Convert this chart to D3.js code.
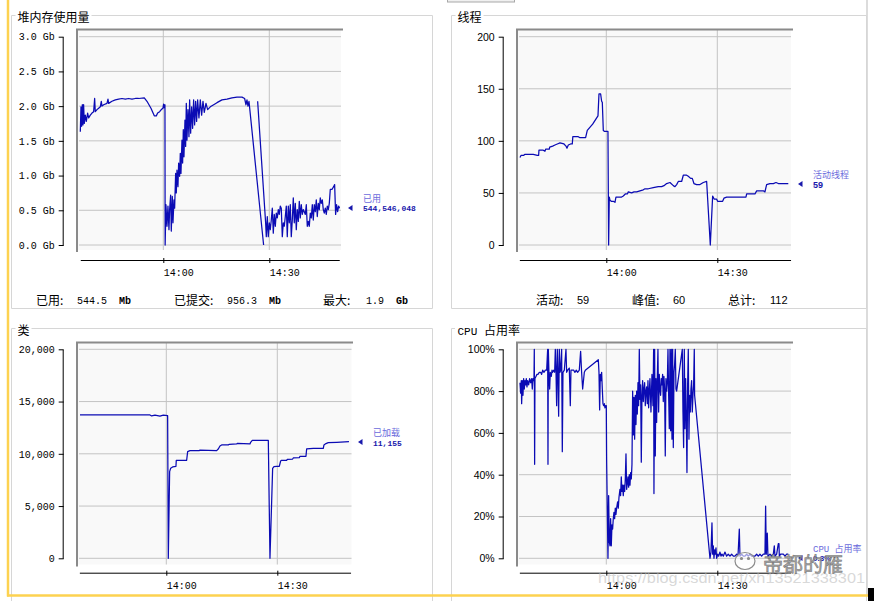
<!DOCTYPE html>
<html><head><meta charset="utf-8">
<script src="https://cdn.jsdelivr.net/npm/d3@7/dist/d3.min.js"></script>
<style>body{margin:0;background:#fff;}svg{display:block}</style>
</head><body>
<svg id="c" width="874" height="601"></svg>
<script>
// ---------- DATA (time = minutes after 13:00) ----------
const timeDomain = [36.5, 109.8];
const xTickMinutes = [60, 90];
const xTickLabels = ["14:00", "14:30"];

// Heap memory used (Gb)
const heapSeries = [
[36.51,1.63],[36.70,1.99],[36.89,1.71],[37.08,2.02],[37.26,1.73],[37.45,2.02],[37.64,1.75],[37.92,1.87],[38.21,1.78],[38.58,1.90],
[38.87,1.83],[39.34,1.87],[39.81,1.90],[40.28,1.92],[40.57,2.11],[40.75,1.92],[41.23,1.95],[41.70,1.97],[42.17,1.99],[42.45,2.07],
[42.64,2.00],[43.11,2.02],[44.06,2.04],[44.34,2.10],[44.53,2.04],[45.47,2.07],[46.42,2.09],[47.36,2.10],[48.30,2.11],[49.25,2.10],
[50.19,2.11],[51.13,2.10],[52.08,2.11],[53.02,2.11],[54.62,2.12],[55.38,2.07],[56.51,1.97],[57.45,1.86],[58.02,1.86],[58.40,1.90],
[58.96,1.92],[59.43,1.95],[59.91,1.97],[60.09,2.03],[60.28,1.98],[60.47,2.02],[60.52,0],
[60.75,0.58],[61.04,0.27],[61.32,0.56],[61.60,0.22],[61.79,0.51],[62.08,0.72],[62.26,0.20],[62.55,0.70],[62.74,0.32],[63.02,0.65],
[63.21,0.53],[63.49,1.03],[63.68,0.75],[63.87,1.08],[64.15,0.84],[64.34,1.18],[64.62,0.99],[64.81,1.32],[65.00,1.03],[65.28,1.51],
[65.47,1.18],[65.66,1.66],[65.85,1.27],[66.13,1.80],[66.32,1.42],[66.51,2.04],[66.70,1.51],[66.98,1.95],[67.26,1.56],[67.45,2.09],
[67.74,1.61],[68.02,1.99],[68.30,1.68],[68.58,2.09],[68.87,1.73],[69.15,2.07],[69.43,1.78],[69.72,2.09],[70.09,1.83],[70.47,2.09],
[70.85,1.87],[71.23,2.07],[71.60,1.91],[72.08,2.04],[72.55,1.95],[73.30,1.99],[74.25,2.02],[75.19,2.05],[76.60,2.09],[78.02,2.10],
[79.43,2.12],[80.85,2.13],[82.26,2.13],[83.02,2.11],[83.40,2.02],[83.68,2.09],[83.96,2.00],[84.25,2.07],[88.39,0],
[88.40,null],
[86.70,2.07],[88.96,0.32],[89.15,0.12],[89.43,0.41],[89.71,0.12],[90.00,0.32],[90.28,0.22],[90.56,0.36],[90.85,0.53],[91.13,0.17],
[91.41,0.44],[91.70,0.27],[91.98,0.46],[92.26,0.39],[92.55,0.51],[92.83,0.44],[93.11,0.56],[93.39,0.53],[93.68,0.12],[93.96,0.32],
[94.24,0.27],[94.53,0.41],[94.81,0.56],[95.09,0.12],[95.38,0.56],[95.66,0.32],[95.94,0.58],[96.22,0.12],[96.51,0.36],[96.79,0.68],
[97.07,0.32],[97.36,0.60],[97.64,0.22],[97.92,0.51],[98.21,0.34],[98.49,0.63],[98.77,0.39],[99.05,0.58],[99.34,0.44],[99.62,0.51],
[99.90,0.48],[100.19,0.44],[100.47,0.58],[100.75,0.27],[101.04,0.34],[101.32,0.27],[101.60,0.46],[101.88,0.39],[102.17,0.58],[102.45,0.36],
[102.73,0.58],[103.02,0.48],[103.30,0.65],[103.58,0.41],[103.87,0.60],[104.15,0.51],[104.43,0.68],[104.71,0.60],[105.00,0.65],[105.28,0.51],
[105.56,0.46],[105.85,0.53],[106.13,0.44],[106.41,0.56],[106.70,0.51],[106.98,0.60],[107.26,0.80],[107.73,0.80],[108.21,0.84],[108.49,0.87],
[108.77,0.44],[109.05,0.58],[109.34,0.48],[109.62,0.56],[109.90,0.53]
];
const heapTicks = [0, 0.5, 1, 1.5, 2, 2.5, 3];

// Live threads
const threadSeries = [
[36.67,84],[36.94,86],[37.57,86],[38.02,87],[38.92,87],[40.27,87],[41.35,86],[41.71,86],[41.80,91],[42.97,91],
[43.42,90],[43.60,92],[44.59,92],[44.70,94],[45.50,95],[46.13,96],[46.76,97],[47.48,98],[48.56,97],[49.10,95],
[49.37,93],[49.73,96],[50.36,97],[50.81,97],[50.95,104],[52.43,104],[52.88,103],[53.96,103],[54.41,103],[54.86,110],
[56.31,116],[57.75,124],[58.02,145],[58.47,145],[58.74,138],[58.92,137],[59.19,110],[59.55,109],[60.09,109],[60.45,109],
[60.63,0],[60.81,46],[60.99,43],[61.35,42],[61.89,42],[62.34,41],[62.61,46],[64.14,46],[64.59,47],[65.14,49],
[65.68,49],[65.95,51],[66.85,50],[67.48,51],[68.20,51],[69.10,52],[70.00,53],[70.45,54],[71.35,54],[72.70,55],
[74.05,56],[74.95,56],[75.59,57],[76.31,59],[77.21,60],[78.11,57],[78.56,56],[79.01,58],[79.46,61],[80.36,61],
[80.81,67],[81.71,67],[82.16,66],[82.79,64],[83.24,64],[83.69,59],[84.41,58],[85.32,58],[86.22,60],[87.12,61],
[88.11,0],[88.74,47],[89.19,44],[89.82,44],[90.09,42],[91.44,42],[91.80,45],[92.52,46],[94.32,46],[96.13,46],
[97.75,46],[97.93,49],[100.18,49],[100.63,52],[102.43,52],[102.88,51],[103.33,58],[104.23,59],[105.14,59],[105.86,60],
[106.49,59],[107.39,59],[108.29,59],[109.19,59]
];
const threadTicks = [0, 50, 100, 150, 200];

// Loaded classes
const classSeries = [
[36.67,13720],[55.59,13720],[56.04,13620],[56.94,13700],[58.29,13600],[59.19,13700],[60.36,13650],[60.54,0],[60.90,8290],[61.17,8610],
[61.71,8740],[62.61,8800],[62.70,9380],[65.50,9380],[65.77,10210],[66.40,10300],[68.92,10300],[69.10,10360],[73.60,10300],[74.05,10460],
[74.50,10750],[74.95,10850],[76.76,10850],[77.03,10910],[79.01,10940],[79.19,11000],[82.61,10940],[82.79,11100],[83.24,11290],[87.57,11290],
[88.02,0],[88.74,8610],[89.10,8770],[89.82,8800],[90.54,8800],[90.90,9310],[91.17,9380],[92.52,9380],[92.70,9470],[94.14,9500],
[94.32,9600],[95.95,9630],[96.13,9760],[97.75,9760],[97.93,10460],[99.73,10530],[102.43,10530],[102.61,10850],[103.15,10980],[103.78,11070],
[106.04,11100],[109.37,11155]
];
const classTicks = [0, 5000, 10000, 15000, 20000];

// CPU usage (%)
const cpuSeries = [
[36.67,84],[36.85,79],[37.03,85],[37.12,74],[37.30,85],[37.48,78],[37.66,86],[37.84,81],[38.02,85],[38.20,83],
[38.38,86],[38.56,82],[38.74,85],[39.01,83],[39.28,86],[39.55,84],[39.82,86],[40.00,81],[40.18,86],[40.36,85],
[40.45,85],[40.54,100],[40.63,45],[40.72,86],[40.99,87],[41.26,88],[41.53,88],[41.89,89],[42.25,89],[42.52,88],
[42.80,90],[43.16,89],[43.52,90],[43.88,90],[44.15,100],[44.24,45],[44.33,100],[44.51,88],[44.69,81],[44.87,89],
[45.14,87],[45.32,90],[45.50,89],[45.77,90],[46.04,89],[46.22,100],[46.40,90],[46.58,73],[46.76,100],[46.94,89],
[47.12,68],[47.30,100],[47.48,89],[47.66,90],[47.93,100],[48.11,51],[48.29,89],[48.65,90],[49.10,100],[49.28,89],
[49.55,90],[50.00,91],[50.27,73],[50.45,90],[50.90,90],[51.17,90],[51.53,89],[51.89,90],[52.25,89],[52.70,90],
[53.06,99],[53.33,89],[53.61,81],[54.06,89],[54.33,90],[57.84,95],[58.02,89],[58.20,71],[58.38,88],[58.56,85],
[58.74,89],[58.92,81],[59.10,74],[59.28,73],[59.46,74],[59.64,72],[59.82,73],[60.00,73],[60.09,47],[60.45,0],
[60.63,30],[60.81,8],[60.99,6],[61.17,19],[61.35,6],[61.53,16],[61.71,14],[61.89,19],[62.07,22],[62.25,19],
[62.43,24],[62.61,21],[62.79,24],[63.06,27],[63.24,24],[63.42,29],[63.69,33],[63.87,30],[64.05,39],[64.23,32],
[64.41,35],[64.59,30],[64.77,35],[64.96,32],[65.14,38],[65.32,50],[65.50,33],[65.68,36],[65.86,39],[66.04,34],
[66.22,40],[66.40,35],[66.58,41],[66.76,38],[66.94,45],[67.12,80],[67.30,59],[67.48,77],[67.66,57],[67.84,78],
[68.02,64],[68.20,80],[68.38,69],[68.56,84],[68.74,73],[68.92,100],[69.10,76],[69.28,83],[69.46,46],[69.64,78],
[69.82,85],[70.00,75],[70.18,81],[70.36,84],[70.54,73],[70.72,80],[70.90,82],[71.08,74],[71.26,85],[71.44,72],
[71.62,80],[71.80,86],[72.07,70],[72.34,88],[72.61,73],[72.79,100],[72.88,31],[73.06,100],[73.24,49],[73.42,86],
[73.60,65],[73.78,86],[73.96,100],[74.14,70],[74.32,88],[74.50,81],[74.68,78],[74.86,86],[75.04,83],[75.22,88],
[75.40,75],[75.58,87],[75.76,81],[75.94,49],[76.12,86],[76.31,80],[76.49,84],[76.67,100],[76.85,78],[77.03,62],
[77.21,100],[77.39,61],[77.57,100],[77.75,57],[77.93,100],[78.11,53],[78.29,89],[78.47,93],[78.65,100],[78.83,81],
[79.01,80],[80.54,100],[80.72,70],[80.90,53],[81.08,100],[81.26,62],[81.44,86],[81.62,67],[81.80,41],[81.98,83],
[82.16,100],[82.34,57],[82.52,78],[82.70,70],[82.88,81],[83.06,85],[83.24,70],[83.42,78],[83.60,83],[83.78,100],
[83.87,78],[88.02,0],[88.29,3],[88.56,17],[88.74,2],[88.92,6],[89.10,0],[89.28,4],[89.46,2],[89.64,5],
[89.82,0],[90.09,2],[90.36,1],[90.72,3],[90.99,1],[91.26,2],[91.62,1],[92.07,3],[92.52,1],[92.97,2],
[93.42,1],[93.87,2],[94.33,1],[94.78,1],[95.23,2],[95.59,1],[95.95,14],[96.13,1],[96.58,2],[97.03,1],
[97.48,1],[97.93,2],[98.38,1],[98.83,2],[99.28,1],[99.73,1],[100.18,1],[100.63,2],[101.08,1],[101.53,2],
[101.98,1],[102.43,2],[102.88,2],[103.06,25],[103.24,2],[103.51,12],[103.69,1],[104.24,2],[104.69,1],[105.14,2],
[105.41,6],[105.59,1],[106.04,2],[106.49,7],[106.67,7],[106.76,1],[107.12,2],[107.48,2],[107.84,2],[108.29,1],
[108.74,2],[109.19,2]
];
const cpuTicks = [0, 20, 40, 60, 80, 100];

// Texts
const panelTitles = ["堆内存使用量", "线程", "类", "CPU 占用率"];
const legendNames = ["已用", "活动线程", "已加载", "CPU 占用率"];
const legendValues = ["544,546,048", "59", "11,155", "0.3%"];
const heapStats = [["已用:", "544.5", "Mb"], ["已提交:", "956.3", "Mb"], ["最大:", "1.9", "Gb"]];
const threadStats = [["活动:", "59"], ["峰值:", "60"], ["总计:", "112"]];

// ---------- DRAW ----------
const svg = d3.select("#c");
const T0 = new Date(2000, 0, 1, 13, 0, 0).getTime();
const toDate = m => new Date(T0 + m * 60000);
const MONO = "'Liberation Mono','DejaVu Sans Mono',monospace";
const SANS = "'Liberation Sans',Arial,sans-serif";
const CJK = "'Noto Sans CJK SC','Noto Sans',sans-serif";
const LINE = "#0b0bb4";
const LEG_LIGHT = "#6b6bdc";
const LEG_DARK = "#1818ac";
const PANEL = "#d6d6d6";

// outer decorations
svg.append("rect").attr("x", 447.5).attr("y", -4).attr("width", 67).attr("height", 6)
  .attr("fill", "#f0f0f0").attr("stroke", "#a8a8a8");
svg.append("line").attr("x1", 867).attr("x2", 867).attr("y1", 0).attr("y2", 595)
  .attr("stroke", "#dcdcdc").attr("stroke-width", 2);

// panels (titled borders)
function panel(x0, y0, x1, y1, title, titleFont) {
  svg.append("path").attr("d", `M${x0},${y1} V${y0} H${x1} V${y1} H${x0}`)
    .attr("fill", "none").attr("stroke", PANEL).attr("stroke-width", 1);
  const t = svg.append("text").attr("x", x0 + 6).attr("y", y0 + 6.5)
    .attr("font-family", titleFont || CJK).attr("font-size", 12).attr("fill", "#000").text(title);
  const bb = t.node().getBBox();
  svg.insert("rect", "text:last-of-type").attr("x", bb.x - 2).attr("y", y0 - 2)
    .attr("width", bb.width + 4).attr("height", 4).attr("fill", "#fff");
}
panel(11.5, 15.5, 432.5, 308.5, panelTitles[0]);
panel(451.5, 15.5, 866.5, 308.5, panelTitles[1]);
panel(11.5, 328.5, 432.5, 610, panelTitles[2]);
// CPU title: mixed fonts
(function () {
  const x0 = 451.5, y0 = 328.5, x1 = 866.5, y1 = 610;
  svg.append("path").attr("d", `M${x0},${y1} V${y0} H${x1} V${y1}`)
    .attr("fill", "none").attr("stroke", PANEL);
  svg.append("rect").attr("x", 455).attr("y", y0 - 2).attr("width", 62).attr("height", 4).attr("fill", "#fff");
  const parts = panelTitles[3].split(" ");
  const t = svg.append("text").attr("x", x0 + 6).attr("y", y0 + 6.5).attr("font-size", 12).attr("fill", "#000");
  t.append("tspan").attr("font-family", MONO).attr("font-size", 11).text(parts[0] + " ");
  t.append("tspan").attr("font-family", CJK).text(parts[1]);
})();

function chart(cfg) {
  const g = svg.append("g");
  const x = d3.scaleTime().domain(timeDomain.map(toDate)).range(cfg.xr);
  const y = d3.scaleLinear().domain(cfg.yd).range([cfg.yBot, cfg.yTop]);
  // background
  g.append("rect").attr("x", cfg.bgL).attr("y", cfg.bgT).attr("width", cfg.bgR - cfg.bgL)
    .attr("height", cfg.bgB - cfg.bgT).attr("fill", "#f9f9f9");
  // grid
  g.selectAll(".hg").data(cfg.ticks).join("line")
    .attr("x1", cfg.bgL + 1).attr("x2", cfg.bgR).attr("y1", d => y(d)).attr("y2", d => y(d))
    .attr("stroke", "#c4c4c4").attr("stroke-width", 1);
  g.selectAll(".vg").data(xTickMinutes).join("line")
    .attr("x1", d => x(toDate(d))).attr("x2", d => x(toDate(d)))
    .attr("y1", cfg.bgT).attr("y2", cfg.bgB).attr("stroke", "#c4c4c4").attr("stroke-width", 1);
  // frame (sunken top/left edges)
  g.append("line").attr("x1", cfg.bgL - 2).attr("x2", cfg.frameR).attr("y1", cfg.bgT - 0.5).attr("y2", cfg.bgT - 0.5)
    .attr("stroke", "#8a8a8a").attr("stroke-width", 2);
  g.append("line").attr("x1", cfg.bgL - 1).attr("x2", cfg.bgL - 1).attr("y1", cfg.bgT - 1).attr("y2", cfg.bgB + 2)
    .attr("stroke", "#8a8a8a").attr("stroke-width", 2);
  // data line
  const line = d3.line().defined(d => d[1] != null)
    .x(d => x(toDate(d[0]))).y(d => y(d[1]));
  g.append("path").datum(cfg.series).attr("d", line).attr("fill", "none")
    .attr("stroke", LINE).attr("stroke-width", 1.25).attr("stroke-linejoin", "round");
  // y axis
  const ya = g.append("g").attr("transform", `translate(${cfg.ax},0)`)
    .call(d3.axisLeft(y).tickValues(cfg.ticks).tickFormat(cfg.fmt).tickSize(4).tickSizeOuter(0).tickPadding(4));
  ya.select(".domain").attr("stroke", "#000");
  ya.selectAll(".tick line").attr("stroke", "#000").attr("x2", -4).attr("x1", 1);
  ya.selectAll("text").attr("font-family", cfg.yFont).attr("font-size", cfg.yFs).attr("fill", "#000");
  // x axis
  const xa = g.append("g").attr("transform", `translate(0,${cfg.axisY})`)
    .call(d3.axisBottom(x).tickValues(xTickMinutes.map(toDate)).tickFormat((d, i) => xTickLabels[i])
      .tickSize(3).tickSizeOuter(0).tickPadding(6));
  xa.select(".domain").attr("stroke", "#000");
  xa.selectAll(".tick line").attr("stroke", "#000").attr("y1", -2).attr("y2", 3);
  xa.selectAll("text").attr("font-family", MONO).attr("font-size", 10).attr("fill", "#000")
    .attr("text-anchor", "start").attr("x", 0);
  // legend
  const lg = cfg.legend;
  g.append("text").attr("x", lg.x).attr("y", lg.y1).attr("font-family", lg.nameFont || CJK)
    .attr("font-size", 9).attr("fill", LEG_LIGHT).text(lg.name);
  g.append("text").attr("x", lg.x).attr("y", lg.y2).attr("font-family", lg.valFont)
    .attr("font-size", lg.valFs).attr("font-weight", "bold").attr("fill", LEG_DARK).text(lg.value);
  g.append("path").attr("d", `M${lg.ax},${lg.ay} l4.5,-3 v6 z`).attr("fill", LEG_DARK);
}

chart({
  xr: [80.27, 339.26], yd: [0, 3], yTop: 36.7, yBot: 245, bgL: 78, bgR: 341, bgT: 30, bgB: 250, frameR: 343,
  ax: 62.7, axisY: 260, series: heapSeries, ticks: heapTicks, fmt: d => d3.format(".1f")(d) + " Gb",
  yFont: MONO, yFs: 10,
  legend: {x: 363, y1: 201.5, y2: 211, name: legendNames[0], value: legendValues[0], valFont: MONO, valFs: 8, ax: 348, ay: 208}
});
chart({
  xr: [519.35, 790.56], yd: [0, 200], yTop: 36.7, yBot: 245, bgL: 518, bgR: 791, bgT: 30, bgB: 250, frameR: 793,
  ax: 502.7, axisY: 260, series: threadSeries, ticks: threadTicks, fmt: d3.format("d"),
  yFont: SANS, yFs: 10.5,
  legend: {x: 813, y1: 177.5, y2: 187.5, name: legendNames[1], value: legendValues[1], valFont: SANS, valFs: 9, ax: 798, ay: 184}
});
chart({
  xr: [79.35, 350.56], yd: [0, 20000], yTop: 349.3, yBot: 558.3, bgL: 78, bgR: 351.5, bgT: 343, bgB: 564.5, frameR: 353,
  ax: 62.7, axisY: 572.7, series: classSeries, ticks: classTicks, fmt: d3.format(","),
  yFont: MONO, yFs: 10,
  legend: {x: 373, y1: 435.5, y2: 445.5, name: legendNames[2], value: legendValues[2], valFont: MONO, valFs: 8, ax: 358, ay: 442}
});
chart({
  xr: [519.35, 790.56], yd: [0, 100], yTop: 349.3, yBot: 558.3, bgL: 518, bgR: 791, bgT: 343, bgB: 564.5, frameR: 793,
  ax: 502.7, axisY: 572.7, series: cpuSeries, ticks: cpuTicks, fmt: d => d + "%",
  yFont: SANS, yFs: 10.5,
  legend: {x: 813, y1: 551.5, y2: 561, name: legendNames[3], value: legendValues[3], valFont: SANS, valFs: 8, ax: 798, ay: 558, nameFont: MONO + "," + CJK}
});

// stats rows
const hsX = [[36, 77, 119], [174, 227, 269], [323, 366, 396]];
heapStats.forEach((s, i) => {
  svg.append("text").attr("x", hsX[i][0]).attr("y", 304.5).attr("font-family", CJK).attr("font-size", 12).text(s[0]);
  svg.append("text").attr("x", hsX[i][1]).attr("y", 303.5).attr("font-family", MONO).attr("font-size", 10).text(s[1]);
  svg.append("text").attr("x", hsX[i][2]).attr("y", 303.5).attr("font-family", MONO).attr("font-size", 10).attr("font-weight", "bold").text(s[2]);
});
const tsX = [[536, 577], [632, 673], [728, 770]];
threadStats.forEach((s, i) => {
  svg.append("text").attr("x", tsX[i][0]).attr("y", 304.5).attr("font-family", CJK).attr("font-size", 12).text(s[0]);
  svg.append("text").attr("x", tsX[i][1]).attr("y", 304).attr("font-family", SANS).attr("font-size", 11).text(s[1]);
});

// yellow selection edges and corner
svg.append("line").attr("x1", 8).attr("x2", 8).attr("y1", 0).attr("y2", 596.5)
  .attr("stroke", "#fdd250").attr("stroke-width", 2.5);
svg.append("line").attr("x1", 7).attr("x2", 868).attr("y1", 595.5).attr("y2", 595.5)
  .attr("stroke", "#fdd250").attr("stroke-width", 2.5);
svg.append("rect").attr("x", 868).attr("y", 588).attr("width", 6).attr("height", 13).attr("fill", "#000");

// watermark
svg.append("text").attr("x", 598).attr("y", 582.5).attr("font-family", SANS).attr("font-size", 15)
  .attr("fill", "#b8b8b8").attr("fill-opacity", 0.55).attr("textLength", 267).attr("lengthAdjust", "spacingAndGlyphs")
  .text("https://blog.csdn.net/xh13521338301");
const wm = svg.append("g").attr("fill", "none").attr("stroke", "#8c8c8c").attr("stroke-width", 1.2);
wm.append("ellipse").attr("cx", 745).attr("cy", 561).attr("rx", 10).attr("ry", 8.5).attr("fill", "#fff").attr("fill-opacity", 0.6);
wm.append("circle").attr("cx", 741.5).attr("cy", 558.5).attr("r", 1).attr("fill", "#8c8c8c");
wm.append("circle").attr("cx", 748.5).attr("cy", 558.5).attr("r", 1).attr("fill", "#8c8c8c");
svg.append("text").attr("x", 763).attr("y", 572).attr("font-family", CJK).attr("font-size", 20)
  .attr("fill", "#9a9a9a").attr("stroke", "#6e6e6e").attr("stroke-width", 0.5).attr("fill-opacity", 0.85)
  .text("帝都的雁");
</script>
</body></html>
